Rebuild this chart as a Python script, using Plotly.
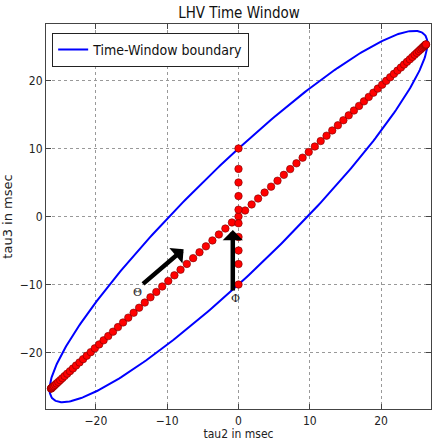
import numpy as np
import plotly.graph_objects as go

# Delay pairs (tau2, tau3) in msec along the correlated diagonal
diag_tau2 = [-26.3, -26.28, -26.24, -26.16, -26.04, -25.90, -25.72, -25.52, -25.28, -25.01,
             -24.71, -24.39, -24.03, -23.64, -23.22, -22.78, -22.30, -21.80, -21.28, -20.72,
             -20.15, -19.54, -18.92, -18.27, -17.60, -16.91, -16.19, -15.46, -14.71, -13.94,
             -13.15, -12.35, -11.53, -10.70, -9.85, -8.99, -8.13, -7.25, -6.36, -5.47,
             -4.57, -3.66, -2.75, -1.84, -0.92, 0.0, 0.92, 1.84, 2.75, 3.66,
             4.57, 5.47, 6.36, 7.25, 8.13, 8.99, 9.85, 10.70, 11.53, 12.35,
             13.15, 13.94, 14.71, 15.46, 16.19, 16.91, 17.60, 18.27, 18.92, 19.54,
             20.15, 20.72, 21.28, 21.80, 22.30, 22.78, 23.22, 23.64, 24.03, 24.39,
             24.71, 25.01, 25.28, 25.52, 25.72, 25.90, 26.04, 26.16, 26.24, 26.28, 26.3]
diag_tau3 = [-25.3, -25.28, -25.24, -25.16, -25.05, -24.92, -24.75, -24.55, -24.32, -24.06,
             -23.77, -23.46, -23.11, -22.74, -22.34, -21.91, -21.45, -20.97, -20.47, -19.94,
             -19.38, -18.80, -18.20, -17.58, -16.93, -16.26, -15.58, -14.87, -14.15, -13.41,
             -12.65, -11.88, -11.09, -10.29, -9.48, -8.65, -7.82, -6.97, -6.12, -5.26,
             -4.39, -3.52, -2.64, -1.77, -0.88, 0.0, 0.88, 1.77, 2.64, 3.52,
             4.39, 5.26, 6.12, 6.97, 7.82, 8.65, 9.48, 10.29, 11.09, 11.88,
             12.65, 13.41, 14.15, 14.87, 15.58, 16.26, 16.93, 17.58, 18.20, 18.80,
             19.38, 19.94, 20.47, 20.97, 21.45, 21.91, 22.34, 22.74, 23.11, 23.46,
             23.77, 24.06, 24.32, 24.55, 24.75, 24.92, 25.05, 25.16, 25.24, 25.28, 25.3]

# Delay pairs on the tau2 = 0 line
vert_tau2 = [0, 0, 0, 0, 0, 0, 0, 0, 0, 0]
vert_tau3 = [-10, -7, -5, -3, -1, 1, 3, 5, 7, 10]

# Time-window boundary: x = A sin t, y = B sin(t + delta)
amp_tau2 = 26.5
amp_tau3 = 27.3
phase_deg = 21.5

t = np.linspace(0, 2 * np.pi, 400)
bound_x = amp_tau2 * np.sin(t)
bound_y = amp_tau3 * np.sin(t + np.deg2rad(phase_deg))

# Arrows: (tail, head) in data coordinates
theta_tail, theta_head = (-13.6, -10.1), (-7.7, -4.8)
phi_tail, phi_head = (-0.8, -11.1), (-0.8, -2.0)

base_font = "DejaVu Sans Condensed, DejaVu Sans, sans-serif"
marker_style = dict(color="#ff0000", size=7.5, line=dict(color="#7a0000", width=0.6))

fig = go.Figure()
fig.add_trace(go.Scatter(
    x=bound_x, y=bound_y, mode="lines",
    line=dict(color="#0000ff", width=2),
    name="Time-Window boundary"))
fig.add_trace(go.Scatter(x=diag_tau2, y=diag_tau3, mode="markers",
                         marker=marker_style, showlegend=False))
fig.add_trace(go.Scatter(x=vert_tau2, y=vert_tau3, mode="markers",
                         marker=marker_style, showlegend=False))

for (tx, ty), (hx, hy) in [(theta_tail, theta_head), (phi_tail, phi_head)]:
    fig.add_annotation(
        x=hx, y=hy, ax=tx, ay=ty, xref="x", yref="y", axref="x", ayref="y",
        text="", showarrow=True, arrowhead=1, arrowsize=0.75, arrowwidth=4.5,
        arrowcolor="black", standoff=0, startstandoff=0)

fig.add_annotation(x=-14.2, y=-11.1, xref="x", yref="y", text="Θ", showarrow=False,
                   font=dict(family="DejaVu Serif, serif", size=11, color="#222"))
fig.add_annotation(x=-0.45, y=-12.0, xref="x", yref="y", text="Φ", showarrow=False,
                   font=dict(family="DejaVu Serif, serif", size=11, color="#222"))

axis_common = dict(
    showgrid=True, gridcolor="#999999", griddash="dot", gridwidth=1,
    zeroline=False, showline=True, linecolor="#444444", linewidth=1.2, mirror="ticks",
    ticks="inside", ticklen=5, tickcolor="#444444",
    tickfont=dict(family=base_font, size=12, color="#222"))

tick_vals = [-20, -10, 0, 10, 20]
tick_text = ["−20", "−10", "0", "10", "20"]

fig.update_layout(
    width=433, height=441,
    margin=dict(l=46, r=1, t=24, b=30),
    paper_bgcolor="white", plot_bgcolor="white",
    title=dict(text="LHV Time Window", x=0.552, xanchor="center", y=0.97, yanchor="middle",
               font=dict(family=base_font, size=15, color="#111")),
    xaxis=dict(range=[-27.0, 27.0], tickvals=tick_vals, ticktext=tick_text,
               title=dict(text="tau2 in msec", standoff=4,
                          font=dict(family=base_font, size=12, color="#222")),
               **axis_common),
    yaxis=dict(range=[-28.3, 28.3], tickvals=tick_vals, ticktext=tick_text,
               title=dict(text="tau3 in msec", standoff=5,
                          font=dict(family="DejaVu Sans, sans-serif", size=13, color="#222")),
               **axis_common),
    legend=dict(x=0.016, y=0.977, xanchor="left", yanchor="top",
                bgcolor="white", bordercolor="#222", borderwidth=1,
                font=dict(family=base_font, size=14, color="#111")),
    showlegend=True,
)

fig.write_html("out.html")
